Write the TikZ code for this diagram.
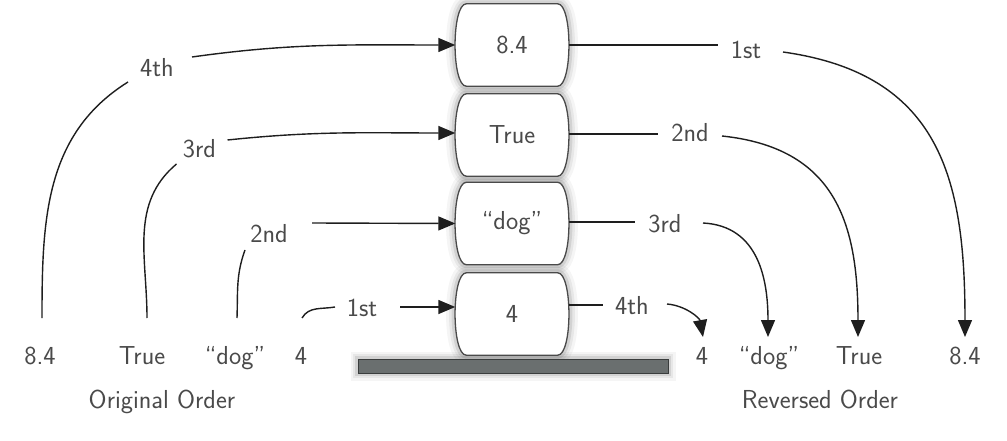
\documentclass[tikz,border=0pt]{standalone}
\usetikzlibrary{arrows.meta}
\definecolor{linec}{HTML}{1E1E1E}
\definecolor{txtc}{HTML}{4A4A4A}
\definecolor{boxline}{HTML}{4A4A4A}
\definecolor{basefill}{HTML}{6A6F6F}
\definecolor{basedraw}{HTML}{3A3D3D}
\pgfdeclarelayer{glow}
\pgfdeclarelayer{fillayer}
\pgfsetlayers{glow,fillayer,main}
\newcommand\barrel[3]{%
  \node[box] (#1) at (512,#2) {#3};
  \begin{pgfonlayer}{glow}
    \foreach \w/\o in {18/0.04,12/0.06,7/0.09}{%
      \draw[line width=\w pt,draw=black,opacity=\o,line join=round]
        ([xshift=10pt]#1.north west) -- ([xshift=-10pt]#1.north east)
        .. controls ([xshift=5pt]#1.north east) and ([xshift=5pt]#1.south east) .. ([xshift=-10pt]#1.south east)
        -- ([xshift=10pt]#1.south west)
        .. controls ([xshift=-5pt]#1.south west) and ([xshift=-5pt]#1.north west) .. ([xshift=10pt]#1.north west) -- cycle;}
  \end{pgfonlayer}
  \begin{pgfonlayer}{fillayer}
    \draw[fill=white,draw=boxline,line width=1.3pt]
        ([xshift=10pt]#1.north west) -- ([xshift=-10pt]#1.north east)
        .. controls ([xshift=5pt]#1.north east) and ([xshift=5pt]#1.south east) .. ([xshift=-10pt]#1.south east)
        -- ([xshift=10pt]#1.south west)
        .. controls ([xshift=-5pt]#1.south west) and ([xshift=-5pt]#1.north west) .. ([xshift=10pt]#1.north west) -- cycle;
  \end{pgfonlayer}}
\begin{document}
\begin{tikzpicture}[x=1pt,y=1pt,
  every node/.style={font=\sffamily\fontsize{26}{30}\selectfont, text=txtc, inner sep=0pt},
  conn/.style={draw=linec, line width=1.4pt},
  arr/.style={conn, -{Triangle[length=17pt,width=14pt]}},
  box/.style={minimum width=111pt, minimum height=82pt}]
\useasboundingbox (0,0) rectangle (1007,-441);

% stack
\barrel{b1}{-45}{8.4}
\barrel{b2}{-135}{True}
\barrel{b3}{-223.5}{“dog”}
\barrel{b4}{-314}{4}

% platform
\node[draw=basedraw, fill=basefill, line width=1pt, minimum width=310pt, minimum height=14pt] (base) at (513,-366) {};
\begin{pgfonlayer}{glow}
  \foreach \w/\o in {14/0.04,9/0.06,5/0.09}{%
    \draw[line width=\w pt,draw=black,opacity=\o] (base.south west) rectangle (base.north east);}
\end{pgfonlayer}

% original order
\node[anchor=base] (o1) at (40,-364) {8.4};
\node[anchor=base] (o2) at (142,-364) {True};
\node[anchor=base] (o3) at (235,-364) {“dog”};
\node[anchor=base] (o4) at (301,-364) {4};
\node[anchor=base] (orig) at (162,-408) {Original Order};

% reversed order
\node[anchor=base] (r4n) at (702,-364) {4};
\node[anchor=base] (r3n) at (769,-364) {“dog”};
\node[anchor=base] (r2n) at (859,-364) {True};
\node[anchor=base] (r1n) at (965,-364) {8.4};
\node[anchor=base] (rev) at (820,-408) {Reversed Order};

% push labels
\node (l4) at (157,-68) {4th};
\node (l3) at (199.5,-149) {3rd};
\node (l2) at (269,-234) {2nd};
\node (l1) at (362,-308) {1st};

% pop labels
\node (r1) at (746,-50) {1st};
\node (r2) at (690,-133) {2nd};
\node (r3) at (665,-224) {3rd};
\node (r4) at (632,-306) {4th};

% push connectors
\draw[conn] ([shift={(2,46)}]o1.base) to[out=90,in=212] ([shift={(-29,-14)}]l4.center);
\draw[arr] ([shift={(35,11)}]l4.center) to[out=8,in=180] ([xshift=-1pt]b1.west);
\draw[conn] ([shift={(5,46)}]o2.base) to[out=90,in=220] ([shift={(-23,-15)}]l3.center);
\draw[arr] ([shift={(28,9)}]l3.center) to[out=6,in=180] ([shift={(-1,2)}]b2.west);
\draw[conn] ([shift={(2,46)}]o3.base) to[out=88,in=250] ([shift={(-24,-16)}]l2.center);
\draw[arr] ([shift={(43,11)}]l2.center) -- ([xshift=-1pt]b3.west);
\draw[conn] ([shift={(1,46)}]o4.base) to[out=60,in=190] ([shift={(-27,1)}]l1.center);
\draw[arr] ([shift={(38,1)}]l1.center) -- ([shift={(-1,7)}]b4.west);

% pop connectors
\draw[conn] ([xshift=1pt]b1.east) -- ([shift={(-28,5)}]r1.center);
\draw[arr] ([shift={(37,-2)}]r1.center) to[out=-8,in=90,looseness=1.2] ([yshift=27pt]r1n.base);
\draw[conn] ([shift={(1,1)}]b2.east) -- ([shift={(-32,-1)}]r2.center);
\draw[arr] ([shift={(32,-3)}]r2.center) to[out=-6,in=90,looseness=1.2] ([shift={(-1,27)}]r2n.base);
\draw[conn] ([shift={(1,1.5)}]b3.east) -- ([shift={(-30,2)}]r3.center);
\draw[arr] ([shift={(38,1)}]r3.center) to[out=-3,in=90,looseness=1.1] ([shift={(-1,27)}]r3n.base);
\draw[conn] ([shift={(1,9)}]b4.east) -- ([shift={(-29,1)}]r4.center);
\draw[arr] ([shift={(35,2)}]r4.center) to[out=-5,in=100] ([shift={(1,27)}]r4n.base);
\end{tikzpicture}
\end{document}
